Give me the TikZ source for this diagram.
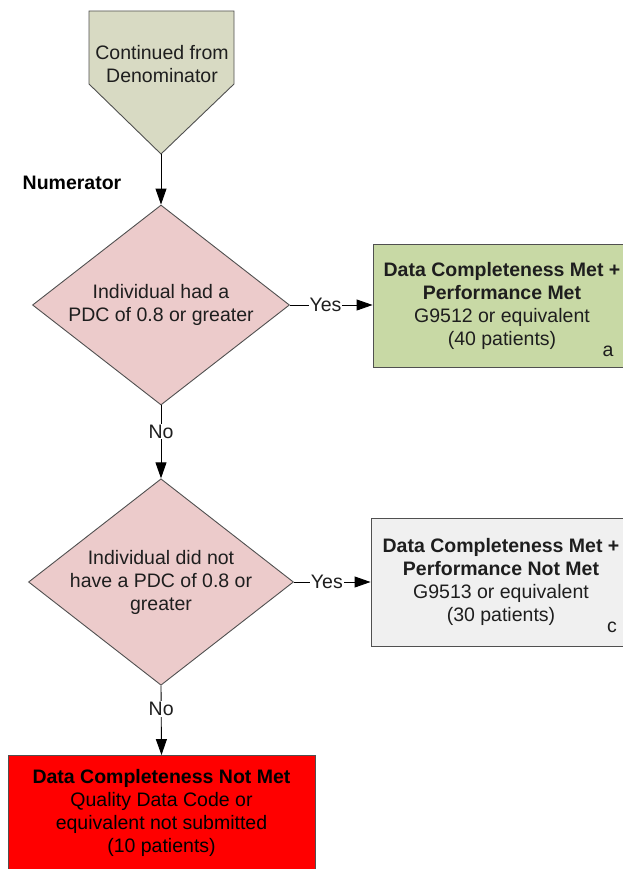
\documentclass[tikz,border=0pt]{standalone}
\usepackage{fontspec}
\setmainfont{Liberation Sans}
\usetikzlibrary{shapes.geometric,arrows.meta}
\definecolor{penfill}{HTML}{D8DAC3}
\definecolor{diafill}{HTML}{ECCBCB}
\definecolor{metfill}{HTML}{C8D9A5}
\definecolor{notfill}{HTML}{F0F0F0}
\definecolor{redfill}{HTML}{FF0000}
\definecolor{edge}{HTML}{505050}
\definecolor{txt}{HTML}{1E1E1E}
\tikzset{
  base/.style={draw=edge, line width=0.9pt, text=txt, align=center, font=\fontsize{19.5}{23}\selectfont, inner sep=0pt},
  decision/.style={base, diamond, fill=diafill, aspect=1.28},
  outbox/.style={base, rectangle},
  arr/.style={draw=black, line width=0.9pt, -{Triangle[length=16pt,width=11pt]}},
  lbl/.style={fill=white, inner sep=1pt, text=txt, font=\fontsize{19.5}{23}\selectfont},
  plain/.style={text=txt, font=\fontsize{19.5}{23}\selectfont, inner sep=0pt}
}
\begin{document}
\begin{tikzpicture}[x=1pt,y=-1pt]
\useasboundingbox (0,0) rectangle (623,869);
% pentagon connector
\draw[draw=edge, line width=0.9pt, fill=penfill] (89,11) -- (234,11) -- (234,84) -- (161,154) -- (89,84) -- cycle;
\node[plain, align=center] (cont) at (162,64) {Continued from\\Denominator};
\coordinate (tip) at (161,154);
\node[plain, font=\fontsize{19.5}{23}\selectfont\bfseries, text=black] (numlab) at (72,183) {Numerator};
% decisions
\node[decision, minimum width=257pt, minimum height=200pt] (d1) at (161,305) {Individual had a\\PDC of 0.8 or greater};
\node[decision, minimum width=265pt, minimum height=203pt] (d2) at (161,582) {Individual did not\\have a PDC of 0.8 or\\greater};
% outcome boxes
\node[outbox, fill=metfill, minimum width=258pt, minimum height=123pt] (met) at (502,306) {\textbf{Data Completeness Met +}\\\textbf{Performance Met}\\G9512 or equivalent\\(40 patients)};
\node[plain] (la) at (608,351) {a};
\node[outbox, fill=notfill, minimum width=260pt, minimum height=128pt] (notmet) at (501,582) {\textbf{Data Completeness Met +}\\\textbf{Performance Not Met}\\G9513 or equivalent\\(30 patients)};
\node[plain] (lc) at (612,627) {c};
\node[outbox, fill=redfill, text=black, minimum width=307pt, minimum height=115pt] (dcnm) at (161.5,813) {\textbf{Data Completeness Not Met}\\Quality Data Code or\\equivalent not submitted\\(10 patients)};
% connectors
\draw[arr] (tip) -- (d1.north);
\draw[arr] (d1.east) -- node[lbl, pos=0.43] {Yes} (d1.east -| met.west);
\draw[arr] (d1.south) -- node[lbl, pos=0.36] {No} (d2.north);
\draw[arr] (d2.east) -- node[lbl, pos=0.43] {Yes} (notmet.west);
\draw[arr] (d2.south) -- node[lbl, pos=0.34] {No} (dcnm.north);
\end{tikzpicture}
\end{document}
